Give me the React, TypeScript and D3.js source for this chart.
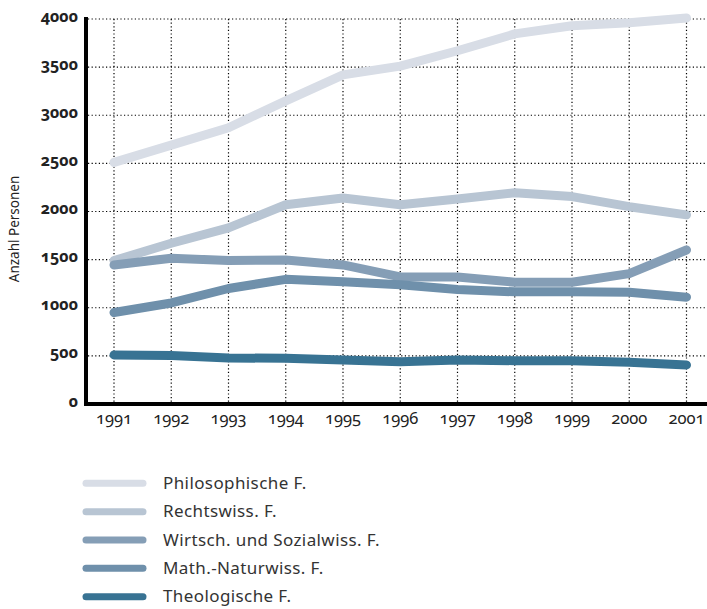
import React from "react";
import * as d3 from "d3";

const years = [1991, 1992, 1993, 1994, 1995, 1996, 1997, 1998, 1999, 2000, 2001];
const yTicks = [0, 500, 1000, 1500, 2000, 2500, 3000, 3500, 4000];

const philosophische = [2510, 2690, 2870, 3150, 3420, 3510, 3670, 3845, 3930, 3960, 4010];
const rechtswiss = [1490, 1670, 1830, 2070, 2140, 2070, 2130, 2195, 2155, 2050, 1965];
const wirtsch = [1445, 1515, 1490, 1495, 1445, 1320, 1320, 1265, 1265, 1355, 1600];
const mathNatur = [950, 1050, 1200, 1295, 1270, 1240, 1190, 1165, 1165, 1160, 1110];
const theologische = [510, 505, 478, 475, 457, 440, 457, 450, 450, 435, 405];

const seriesNames = ["Philosophische F.", "Rechtswiss. F.", "Wirtsch. und Sozialwiss. F.", "Math.-Naturwiss. F.", "Theologische F."];
const seriesValues = [philosophische, rechtswiss, wirtsch, mathNatur, theologische];
const seriesColors = ["#d8dde6", "#b8c5d3", "#859eb6", "#6f90ab", "#387393"];

const W = 707;
const H = 609;

export default function App() {
  const x = d3.scaleLinear().domain([1991, 2001]).range([114, 686.5]);
  const y = d3.scaleLinear().domain([0, 4000]).range([404, 19]);
  const line = d3
    .line<number>()
    .x((_, i) => x(years[i]))
    .y((d) => y(d));

  const font = "'Noto Sans', 'Open Sans', sans-serif";
  const numStyle: React.CSSProperties = { fontVariantNumeric: "oldstyle-nums", fontFeatureSettings: "'onum' 1" };

  return (
    <svg width={W} height={H} style={{ position: "absolute", left: 0, top: 0, background: "#fff" }} fontFamily={font}>
      {/* horizontal grid */}
      {yTicks.slice(1).map((t) => (
        <line key={"h" + t} x1={88} x2={W} y1={y(t)} y2={y(t)} stroke="#000" strokeWidth={1.2} strokeDasharray="1.2,2.4" />
      ))}
      {/* vertical grid */}
      {years.map((yr) => (
        <line key={"v" + yr} x1={x(yr)} x2={x(yr)} y1={y(4000)} y2={y(0)} stroke="#000" strokeWidth={1.2} strokeDasharray="1.2,2.4" />
      ))}
      {/* series lines */}
      {seriesValues.map((vals, i) => (
        <path key={i} d={line(vals) || ""} fill="none" stroke={seriesColors[i]} strokeWidth={9} strokeLinecap="round" strokeLinejoin="round" />
      ))}
      {/* axes */}
      <line x1={86} x2={86} y1={17} y2={406} stroke="#000" strokeWidth={4} />
      <line x1={84} x2={W} y1={404} y2={404} stroke="#000" strokeWidth={4} />
      {/* y tick labels */}
      {yTicks.map((t) => (
        <text key={"yt" + t} x={78} y={y(t) + 2.5} textAnchor="end" fontSize={16} fontWeight="bold" fill="#222" style={numStyle}>
          {t}
        </text>
      ))}
      {/* x tick labels */}
      {years.map((yr) => (
        <text key={"xt" + yr} x={x(yr)} y={423.5} textAnchor="middle" fontSize={16.5} fill="#222" style={numStyle}>
          {yr}
        </text>
      ))}
      {/* y axis title */}
      <text transform="translate(19,229) rotate(-90)" textAnchor="middle" fontSize={13.5} fill="#222">
        Anzahl Personen
      </text>
      {/* legend */}
      {seriesNames.map((name, i) => {
        const ly = 483.3 + i * 28.35;
        return (
          <g key={"lg" + i}>
            <line x1={86} x2={143} y1={ly} y2={ly} stroke={seriesColors[i]} strokeWidth={7} strokeLinecap="round" />
            <text x={163} y={ly + 5.5} fontSize={17} letterSpacing={0.4} fill="#333">
              {name}
            </text>
          </g>
        );
      })}
    </svg>
  );
}
